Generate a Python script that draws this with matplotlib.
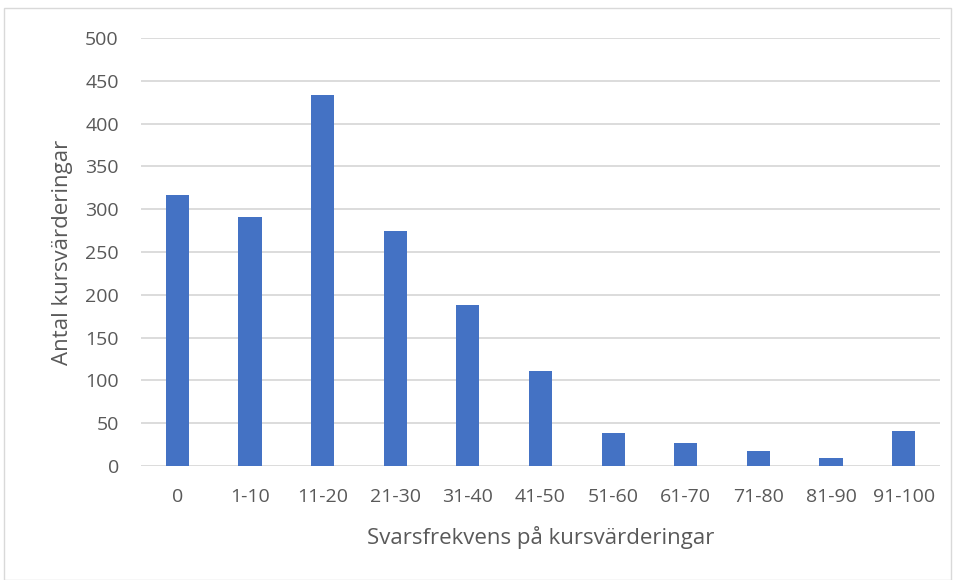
import matplotlib
matplotlib.use("Agg")
import matplotlib.pyplot as plt
from matplotlib.patches import Rectangle

categories = ["0", "1-10", "11-20", "21-30", "31-40", "41-50", "51-60", "61-70", "71-80", "81-90", "91-100"]
values = [317, 291, 433, 275, 188, 111, 38, 27, 18, 9, 41]
yticks = [0, 50, 100, 150, 200, 250, 300, 350, 400, 450, 500]

plt.rcParams['font.family'] = ['Open Sans', 'DejaVu Sans']
W, H = 957, 580
fig = plt.figure(figsize=(W/100, H/100), dpi=100)
ax = fig.add_axes([141/W, 1-466/H, (940-141)/W, (466-38)/H])

x = list(range(len(categories)))
ax.bar(x, values, width=0.32, color="#4472C4", zorder=3)
ax.set_xlim(-0.5, len(categories)-0.5)
ax.set_ylim(0, 500)
ax.set_yticks(yticks)
ax.set_xticks(x)
ax.set_xticklabels(categories)
ax.grid(axis='y', color='#D9D9D9', linewidth=1.3, zorder=0)
for s in ax.spines.values():
    s.set_visible(False)
ax.tick_params(length=0, labelsize=14, colors='#595959')
ax.tick_params(axis='x', pad=16)
ax.tick_params(axis='y', pad=16)
ax.set_ylabel("Antal kursvärderingar", fontsize=16, color='#595959', labelpad=9)
ax.set_xlabel("Svarsfrekvens på kursvärderingar", fontsize=16, color='#595959', labelpad=14)

fig.patches.append(Rectangle((4/W, 0), (951-4)/W, 1-8/H, transform=fig.transFigure,
                             fill=False, edgecolor='#D9D9D9', linewidth=1))
fig.savefig("out.png", dpi=100)
